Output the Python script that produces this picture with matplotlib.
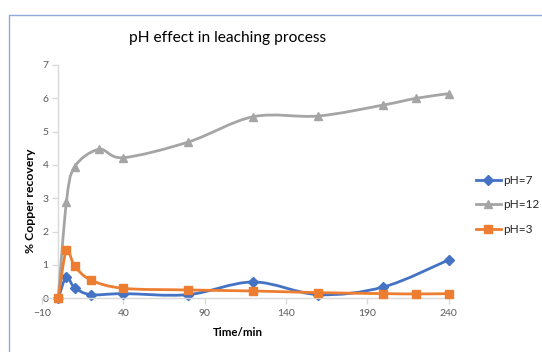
import numpy as np
import matplotlib.pyplot as plt
from matplotlib.path import Path
from matplotlib.patches import PathPatch, Rectangle
from matplotlib.lines import Line2D

plt.rcParams['font.family'] = ['Lato', 'DejaVu Sans']

# leaching data, % copper recovered vs time
t_ph7 = [0, 5, 10, 20, 40, 80, 120, 160, 200, 240]
cu_ph7 = [0, 0.64, 0.32, 0.11, 0.14, 0.11, 0.49, 0.11, 0.34, 1.15]

t_ph12 = [0, 5, 10, 25, 40, 80, 120, 160, 200, 220, 240]
cu_ph12 = [0, 2.88, 3.94, 4.47, 4.22, 4.69, 5.45, 5.47, 5.80, 6.00, 6.14]

t_ph3 = [0, 5, 10, 20, 40, 80, 120, 160, 200, 220, 240]
cu_ph3 = [0, 1.44, 0.97, 0.55, 0.30, 0.25, 0.22, 0.17, 0.14, 0.13, 0.14]

x_ticks = [-10, 40, 90, 140, 190, 240]
y_ticks = [0, 1, 2, 3, 4, 5, 6, 7]

series = [
    ('pH=7', t_ph7, cu_ph7, '#4472C4', 'D', 4.6),
    ('pH=12', t_ph12, cu_ph12, '#A5A5A5', '^', 6.0),
    ('pH=3', t_ph3, cu_ph3, '#ED7D31', 's', 5.6),
]


def smooth_path(x, y):
    # spreadsheet-style smoothed line: cubic bezier through every point
    p = np.column_stack([x, y]).astype(float)
    ext = np.vstack([p[0], p, p[-1]])
    verts = [p[0]]
    codes = [Path.MOVETO]
    for i in range(len(p) - 1):
        p0, p1, p2, p3 = ext[i], ext[i + 1], ext[i + 2], ext[i + 3]
        c1 = p1 + (p2 - p0) / 6.0
        c2 = p2 - (p3 - p1) / 6.0
        verts += [c1, c2, p2]
        codes += [Path.CURVE4] * 3
    return Path(verts, codes)


fig = plt.figure(figsize=(5.42, 3.52), dpi=100)
fig.patches.append(Rectangle((9 / 542, -0.1), 1.2, 1 - 15 / 352 + 0.1,
                             transform=fig.transFigure, fill=False,
                             edgecolor='#8FAADC', lw=1.0))

ax = fig.add_axes([42 / 542, 53.7 / 352, 406.5 / 542, 233.3 / 352])

handles = []
for k, (name, tx, cy, col, mk, ms) in enumerate(series):
    ax.add_patch(PathPatch(smooth_path(tx, cy), fill=False, edgecolor=col,
                           lw=2.0, zorder=2 + k, capstyle='round'))
    ax.plot(tx, cy, linestyle='none', marker=mk, ms=ms, color=col,
            zorder=2.5 + k, clip_on=False)
    handles.append(Line2D([], [], color=col, lw=2.0, marker=mk, ms=ms))

ax.set_xlim(-10, 240)
ax.set_ylim(0, 7)
ax.set_xticks(x_ticks)
ax.set_yticks(y_ticks)

ax.spines['left'].set_position(('data', 0))
for s in ['top', 'right']:
    ax.spines[s].set_visible(False)
for s in ['left', 'bottom']:
    ax.spines[s].set_color('#D9D9D9')
    ax.spines[s].set_linewidth(1.0)
ax.tick_params(axis='both', colors='#D9D9D9', labelcolor='#595959',
               labelsize=7.5, length=4, width=1.0, direction='out')
ax.tick_params(axis='x', pad=4)
ax.tick_params(axis='y', pad=3)

fig.text(228 / 542, 1 - 38 / 352, 'pH effect in leaching process',
         ha='center', va='center', fontsize=11.2, color='#000000')
fig.text(238 / 542, 1 - 333 / 352, 'Time/min', ha='center', va='center',
         fontsize=8.3, fontweight='bold', color='#000000')
fig.text(31 / 542, 1 - 201 / 352, '% Copper recovery', ha='center',
         va='center', rotation=90, fontsize=8.8, fontweight='bold',
         color='#000000')

ax.legend(handles, [s[0] for s in series], loc='upper left',
          bbox_to_anchor=(471 / 542, 1 - 170 / 352),
          bbox_transform=fig.transFigure, frameon=False, fontsize=8.5,
          handlelength=2.1, handletextpad=0.2, labelspacing=1.15,
          borderaxespad=0, labelcolor='#262626')

fig.savefig('out.png', dpi=100)
